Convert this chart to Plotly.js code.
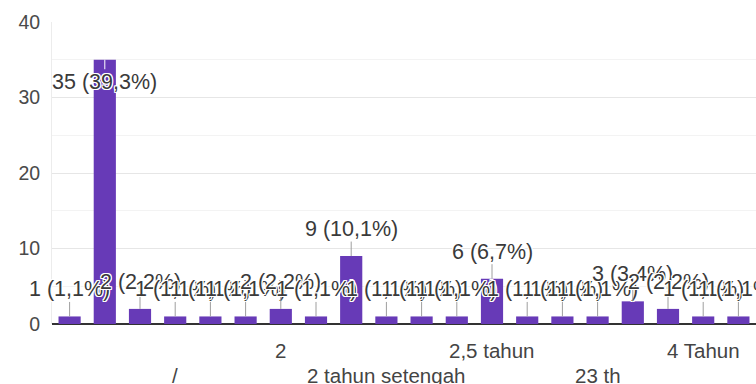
<!DOCTYPE html>
<html>
<head>
<meta charset="utf-8">
<script src="https://cdn.plot.ly/plotly-3.0.1.min.js"></script>
<style>html,body{margin:0;padding:0;background:#fff;}#chart{width:756px;height:384px;}</style>
</head>
<body>
<div id="chart"></div>
<script>
// Category labels (only every third one is shown on the axis)
const categories = ["", "c2", "c3", "/", "c5", "c6", "2", "c8", "c9", "2 tahun setengah",
  "c11", "c12", "2,5 tahun", "c14", "c15", "23 th", "c17", "c18", "4 Tahun", "c20"];
const counts = [1, 35, 2, 1, 1, 1, 2, 1, 9, 1, 1, 1, 6, 1, 1, 1, 3, 2, 1, 1];
const percents = ["1,1", "39,3", "2,2", "1,1", "1,1", "1,1", "2,2", "1,1", "10,1", "1,1",
  "1,1", "1,1", "6,7", "1,1", "1,1", "1,1", "3,4", "2,2", "1,1", "1,1"];
const tickIdx = [0, 3, 6, 9, 12, 15, 18];
const tickRow = [1, 2, 1, 2, 1, 2, 1];

const xs = categories.map((_, i) => i);
const FONT = "Arial, 'Liberation Sans', sans-serif";
const halo = "1px 1px 0 #fff, -1px -1px 0 #fff, 1px -1px 0 #fff, -1px 1px 0 #fff, 0 1px 0 #fff, 0 -1px 0 #fff, 1px 0 0 #fff, -1px 0 0 #fff";

const annotations = [];
counts.forEach((v, i) => {
  const inside = v > 20;
  annotations.push({
    x: i, y: v, xref: 'x', yref: 'y',
    text: v + ' (' + percents[i] + '%)',
    showarrow: true, arrowhead: 0, arrowwidth: 1,
    arrowcolor: inside ? '#ffffff' : '#9e9e9e',
    ax: 0, ay: inside ? 22 : -27,
    font: {family: FONT, size: 21.5, color: '#3a3a3a', shadow: halo},
    bgcolor: 'rgba(0,0,0,0)', borderpad: 0
  });
});
tickIdx.forEach((ti, k) => {
  annotations.push({
    x: ti, y: 0, xref: 'x', yref: 'paper',
    text: categories[ti], showarrow: false,
    yanchor: 'middle', xanchor: 'center',
    yshift: tickRow[k] === 1 ? -26 : -51,
    font: {family: FONT, size: 20.5, color: '#444444'}
  });
});

const data = [{
  type: 'bar', x: xs, y: counts,
  marker: {color: '#673ab7', line: {width: 0}},
  width: 0.63, hoverinfo: 'none', cliponaxis: false
}];

const layout = {
  width: 756, height: 384,
  margin: {l: 52, r: 0, t: 22, b: 60, pad: 0},
  paper_bgcolor: '#ffffff', plot_bgcolor: '#ffffff',
  showlegend: false,
  font: {family: FONT, size: 19, color: '#444444'},
  xaxis: {
    range: [-0.5, 19.5], showticklabels: false, showgrid: false,
    zeroline: false, ticks: '', showline: false, fixedrange: true
  },
  yaxis: {
    range: [0, 40], tickvals: [0, 10, 20, 30, 40], ticks: '',
    showgrid: true, gridcolor: '#e6e6e6', gridwidth: 1,
    minor: {tickvals: [5, 15, 25, 35], showgrid: true, gridcolor: '#f3f3f3', gridwidth: 1},
    zeroline: true, zerolinecolor: '#333333', zerolinewidth: 2,
    showline: true, linecolor: '#ececec', linewidth: 1, ticklabelstandoff: 7,
    tickfont: {family: FONT, size: 19.5, color: '#4a4a4a'}, fixedrange: true
  },
  annotations: annotations,
  bargap: 0.37
};

Plotly.newPlot('chart', data, layout, {staticPlot: true, displayModeBar: false});
</script>
</body>
</html>
